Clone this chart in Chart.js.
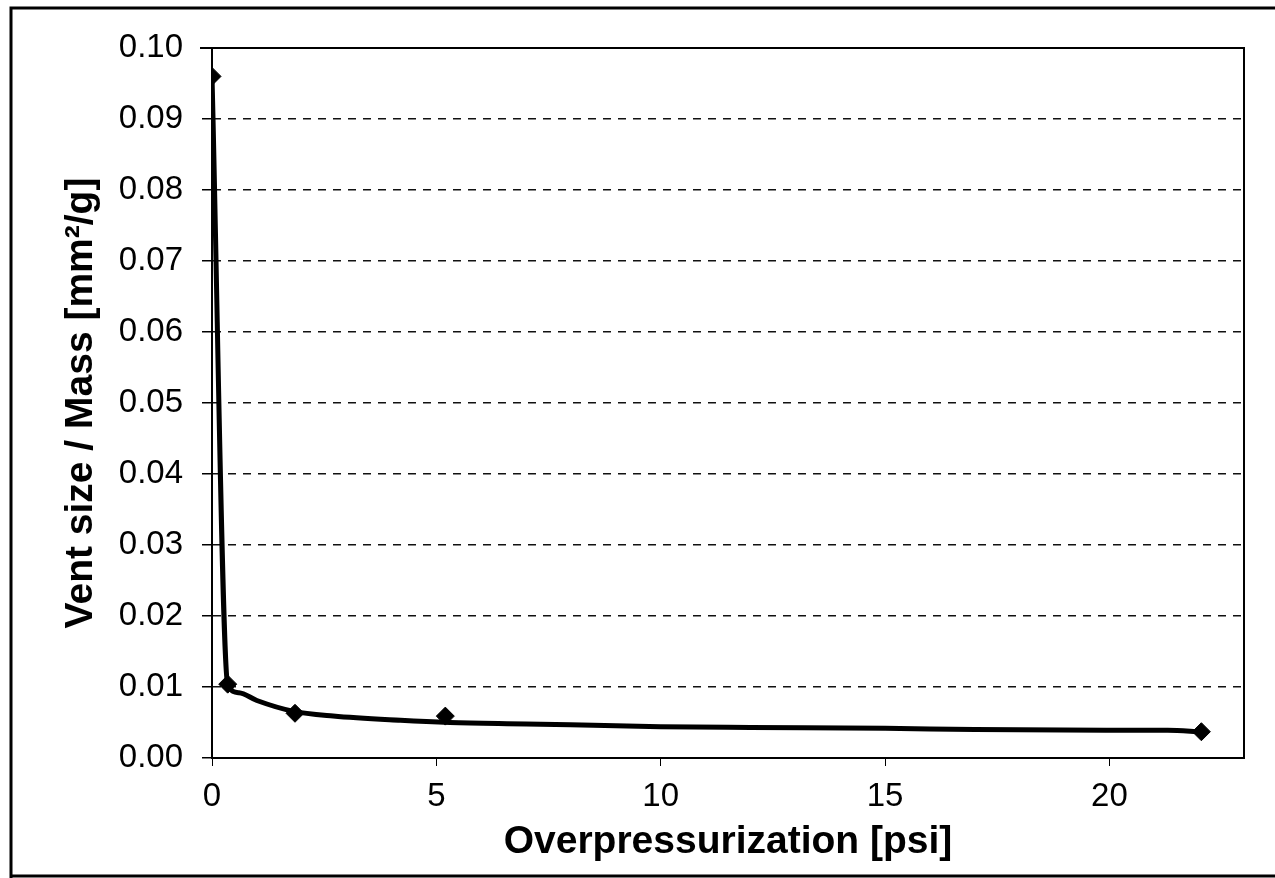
<!DOCTYPE html>
<html>
<head>
<meta charset="utf-8">
<script src="https://cdn.jsdelivr.net/npm/chart.js@4.4.1/dist/chart.umd.min.js"></script>
<style>
  html, body { margin: 0; padding: 0; background: #fff; }
  #wrap { width: 1275px; height: 878px; position: relative; }
</style>
</head>
<body>
<div id="wrap"><canvas id="ventchart" width="1275" height="878"></canvas></div>
<script>
// measured points (diamonds)
const pressure = [0, 0.35, 1.85, 5.2, 22.05];
const ventmass = [0.0960, 0.0104, 0.0063, 0.0059, 0.0037];

// smoothed curve
const curve_x = [0, 0.35, 0.6, 1.0, 1.8, 2.7, 4.2, 5.3, 7, 8.5, 10, 12, 15, 17, 20, 21.3, 22.05];
const curve_y = [0.0960, 0.0104, 0.0092, 0.0081, 0.0066, 0.0059, 0.0053, 0.0050, 0.0048, 0.0046, 0.0044, 0.0043, 0.0042, 0.0040, 0.0039, 0.0039, 0.0037];

const x_ticks = [0, 5, 10, 15, 20];

const fontname = '"Liberation Sans", Arial, sans-serif';

// outer frame + plot box
const framePlugin = {
    id: 'frame',
    afterDraw(chart) {
        const ctx = chart.ctx;
        const a = chart.chartArea;
        ctx.save();
        ctx.strokeStyle = '#000';
        ctx.lineWidth = 2;
        ctx.strokeRect(a.left, a.top, a.right - a.left, a.bottom - a.top);
        ctx.beginPath();
        ctx.moveTo(a.left - 12, a.top);
        ctx.lineTo(a.left, a.top);
        ctx.stroke();
        ctx.lineWidth = 3;
        ctx.beginPath();
        ctx.moveTo(11, 878);
        ctx.lineTo(11, 8);
        ctx.lineTo(1275, 8);
        ctx.stroke();
        ctx.beginPath();
        ctx.moveTo(11, 876);
        ctx.lineTo(1275, 876);
        ctx.stroke();
        ctx.restore();
    }
};

const curvedata = curve_x.map((v, i) => ({ x: v, y: curve_y[i] }));
const pointdata = pressure.map((v, i) => ({ x: v, y: ventmass[i] }));

const config = {
    type: 'scatter',
    data: {
        datasets: [
            {
                label: 'curve',
                data: curvedata,
                showLine: true,
                borderColor: '#000',
                borderWidth: 5,
                pointRadius: 0,
                cubicInterpolationMode: 'monotone',
                order: 2
            },
            {
                label: 'measured',
                data: pointdata,
                showLine: false,
                pointStyle: 'rectRot',
                pointRadius: 9,
                backgroundColor: '#000',
                borderColor: '#000',
                order: 1
            }
        ]
    },
    options: {
        responsive: false,
        animation: false,
        layout: { padding: { left: 0, top: 48, right: 31, bottom: 0 } },
        plugins: {
            legend: { display: false },
            tooltip: { enabled: false }
        },
        scales: {
            x: {
                type: 'linear',
                min: 0,
                max: 23,
                afterFit: function (scale) { scale.height = 120; },
                afterBuildTicks: function (scale) {
                    scale.ticks = x_ticks.map(v => ({ value: v }));
                },
                grid: {
                    drawOnChartArea: false,
                    drawTicks: true,
                    tickLength: 8,
                    color: '#000'
                },
                border: { display: true, color: '#000', width: 2 },
                ticks: {
                    color: '#000',
                    padding: 11,
                    font: { family: fontname, size: 33 }
                },
                title: {
                    display: true,
                    text: 'Overpressurization [psi]',
                    color: '#000',
                    padding: { top: 0, bottom: 12 },
                    font: { family: fontname, size: 39, weight: 'bold' }
                }
            },
            y: {
                type: 'linear',
                min: 0,
                max: 0.1,
                afterFit: function (scale) { scale.width = 212; },
                grid: {
                    color: '#111',
                    lineWidth: 1.5,
                    drawTicks: true,
                    tickLength: 10,
                    tickBorderDash: [],
                    tickColor: '#000'
                },
                border: { display: true, color: '#000', width: 2, dash: [8, 7] },
                ticks: {
                    stepSize: 0.01,
                    color: '#000',
                    padding: 19,
                    font: { family: fontname, size: 33 },
                    callback: function (v) { return v.toFixed(2); }
                },
                title: {
                    display: true,
                    text: 'Vent size / Mass [mm\u00b2/g]',
                    color: '#000',
                    padding: { top: 58, bottom: 0 },
                    font: { family: fontname, size: 39, weight: 'bold' }
                }
            }
        }
    },
    plugins: [framePlugin]
};

new Chart(document.getElementById('ventchart'), config);
</script>
</body>
</html>
